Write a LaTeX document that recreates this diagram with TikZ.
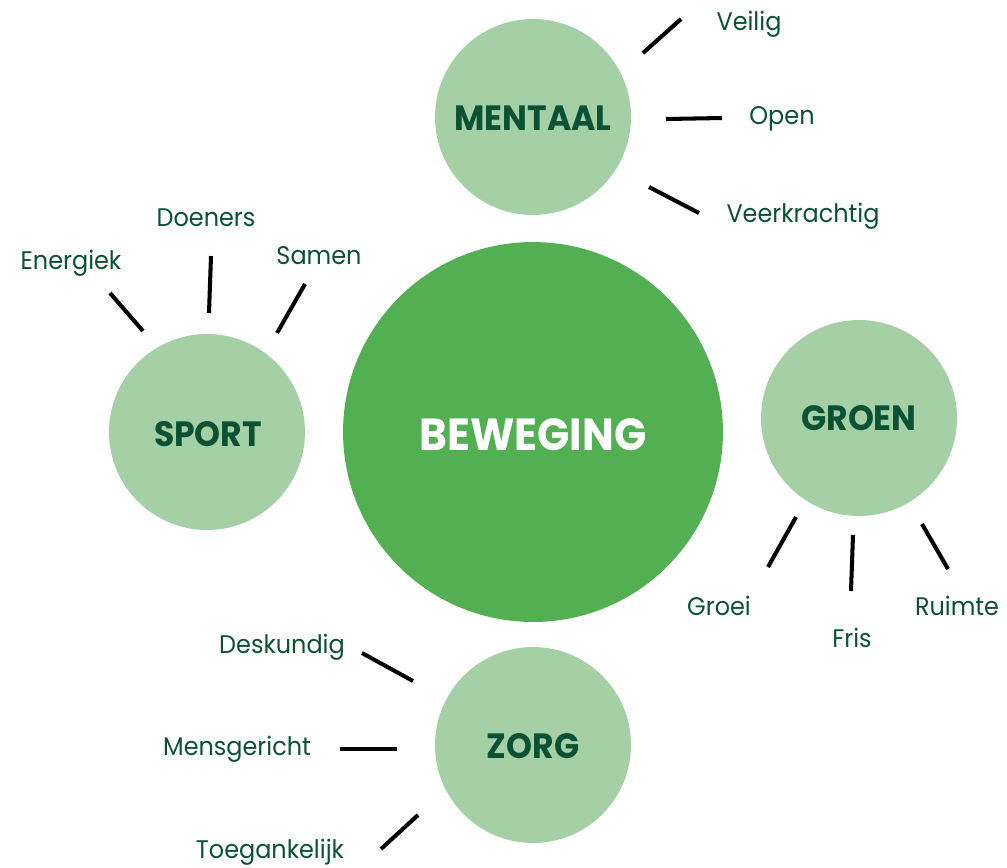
\documentclass[tikz,border=0pt]{standalone}
\usepackage{fontspec}
\setmainfont{Poppins}[FakeStretch=0.94]

\definecolor{hoofdgroen}{HTML}{52AF52}
\definecolor{lichtgroen}{HTML}{A5CFA5}
\definecolor{donkergroen}{HTML}{0B5234}

\begin{document}
\begin{tikzpicture}[x=0.02cm, y=-0.02cm,
    % Styles
    kern/.style={circle, fill=hoofdgroen, minimum size=7.6cm, inner sep=0pt},
    pijler/.style={circle, fill=lichtgroen, minimum size=3.92cm, inner sep=0pt},
    kernlbl/.style={anchor=base, text=white, font=\bfseries\fontsize{25.6}{30}\selectfont},
    pijlerlbl/.style={anchor=base, text=donkergroen, font=\bfseries\fontsize{20}{24}\selectfont},
    woord/.style={anchor=base, text=donkergroen, font=\fontsize{14.5}{18}\selectfont},
    streep/.style={line width=2.3pt, black},
  ]
  \useasboundingbox (0,0) rectangle (1007,867);

  % Circles
  \node[kern] (beweging) at (533,432) {};
  \node[pijler] (mentaal) at (533,117) {};
  \node[pijler] (sport) at (207,432) {};
  \node[pijler] (groen) at (859,418) {};
  \node[pijler] (zorg) at (533,745) {};

  \node[kernlbl] at (533,450) {BEWEGING};
  \node[pijlerlbl] at (533,130) {MENTAAL};
  \node[pijlerlbl] at (208,446) {SPORT};
  \node[pijlerlbl] at (859,430) {GROEN};
  \node[pijlerlbl] at (533,758) {ZORG};

  % Mentaal
  \node[woord] (veilig) at (749,30) {Veilig};
  \node[woord] (open) at (782,124) {Open};
  \node[woord] (veerkrachtig) at (803,222) {Veerkrachtig};
  \coordinate (m1a) at (643,53);  \coordinate (m1b) at (681,19);
  \coordinate (m2a) at (666,119); \coordinate (m2b) at (722,118);
  \coordinate (m3a) at (649,187); \coordinate (m3b) at (699,213);
  \draw[streep] (m1a) -- (m1b);
  \draw[streep] (m2a) -- (m2b);
  \draw[streep] (m3a) -- (m3b);

  % Sport
  \node[woord] (energiek) at (71,269) {Energiek};
  \node[woord] (doeners) at (206,226) {Doeners};
  \node[woord] (samen) at (319,264) {Samen};
  \coordinate (s1a) at (143,331); \coordinate (s1b) at (110,293);
  \coordinate (s2a) at (209,313); \coordinate (s2b) at (211,256);
  \coordinate (s3a) at (277,333); \coordinate (s3b) at (305,284);
  \draw[streep] (s1a) -- (s1b);
  \draw[streep] (s2a) -- (s2b);
  \draw[streep] (s3a) -- (s3b);

  % Groen
  \node[woord] (groei) at (719,615) {Groei};
  \node[woord] (fris) at (852,647) {Fris};
  \node[woord] (ruimte) at (957,615) {Ruimte};
  \coordinate (g1a) at (796,517); \coordinate (g1b) at (768,567);
  \coordinate (g2a) at (853,535); \coordinate (g2b) at (851,591);
  \coordinate (g3a) at (922,524); \coordinate (g3b) at (948,569);
  \draw[streep] (g1a) -- (g1b);
  \draw[streep] (g2a) -- (g2b);
  \draw[streep] (g3a) -- (g3b);

  % Zorg
  \node[woord] (deskundig) at (282,653) {Deskundig};
  \node[woord] (mensgericht) at (237,755) {Mensgericht};
  \node[woord] (toegankelijk) at (270,858) {Toegankelijk};
  \coordinate (z1a) at (413,681); \coordinate (z1b) at (362,653);
  \coordinate (z2a) at (397,749); \coordinate (z2b) at (340,749);
  \coordinate (z3a) at (418,815); \coordinate (z3b) at (381,849);
  \draw[streep] (z1a) -- (z1b);
  \draw[streep] (z2a) -- (z2b);
  \draw[streep] (z3a) -- (z3b);

\end{tikzpicture}
\end{document}
